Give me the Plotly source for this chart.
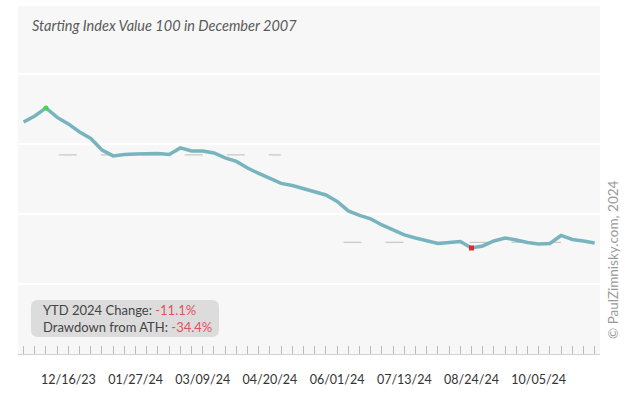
import plotly.graph_objects as go
import pandas as pd

# ---- data ----
start_date = "2023-11-18"
values = [133.14, 134.00, 135.14, 133.79, 132.86, 131.71, 130.79, 129.14, 128.29, 128.50,
          128.57, 128.57, 128.64, 128.50, 129.43, 129.00, 129.00, 128.71, 128.00, 127.50,
          126.57, 125.79, 125.14, 124.36, 124.07, 123.64, 123.14, 122.71, 121.79, 120.43,
          119.79, 119.29, 118.43, 117.71, 117.00, 116.57, 116.21, 115.79, 115.93, 116.07,
          115.14, 115.43, 116.14, 116.57, 116.29, 115.93, 115.71, 115.79, 116.93, 116.36,
          116.14, 115.86]
dates = pd.date_range(start_date, periods=len(values), freq="7D")

tick_labels = ["12/16/23", "01/27/24", "03/09/24", "04/20/24", "06/01/24", "07/13/24", "08/24/24", "10/05/24"]
tick_dates = pd.to_datetime(tick_labels, format="%m/%d/%y")

level_values = [128.43, 115.93]
level_starts = ["2023-12-10", "2024-06-05"]
level_ends = ["2024-04-27", "2024-10-19"]

grid_values = [110, 120, 130, 140]

ytd_change = "-11.1%"
drawdown = "-34.4%"

hi_idx = values.index(max(values))
lo_idx = values.index(min(values))

fig = go.Figure()

for lv, s, e in zip(level_values, level_starts, level_ends):
    fig.add_trace(go.Scatter(x=[s, e], y=[lv, lv], mode="lines",
                             line=dict(color="#c8c8c8", width=1.2, dash="18px,24px"),
                             hoverinfo="skip", showlegend=False))

fig.add_trace(go.Scatter(x=dates, y=values, mode="lines",
                         line=dict(color="#78b4be", width=3.5), showlegend=False))

fig.add_trace(go.Scatter(x=[dates[hi_idx]], y=[values[hi_idx]], mode="markers",
                         marker=dict(color="#3fd94a", size=5), showlegend=False))
fig.add_trace(go.Scatter(x=[dates[lo_idx]], y=[values[lo_idx]], mode="markers",
                         marker=dict(color="#e8262e", size=5, symbol="square"), showlegend=False))

L, R, T, B = 18, 38, 6, 41
W, H = 638, 395
pw, ph = W - L - R, H - T - B

def px(x):
    return (x - L) / pw

def py(y):
    return (H - B - y) / ph

# rounded box
x0, x1, y0, y1, r = px(31), px(219), py(337), py(300), 7
rx, ry = r / pw, r / ph
path = (f"M {x0+rx},{y0} L {x1-rx},{y0} Q {x1},{y0} {x1},{y0+ry} "
        f"L {x1},{y1-ry} Q {x1},{y1} {x1-rx},{y1} L {x0+rx},{y1} Q {x0},{y1} {x0},{y1-ry} "
        f"L {x0},{y0+ry} Q {x0},{y0} {x0+rx},{y0} Z")

fig.update_layout(
    width=W, height=H,
    margin=dict(l=L, r=R, t=T, b=B),
    paper_bgcolor="white",
    plot_bgcolor="#f7f7f7",
    font=dict(family="Lato, Open Sans, sans-serif", color="#333"),
    xaxis=dict(
        range=["2023-11-14 12:00", "2024-11-12 08:00"],
        tickvals=tick_dates, ticktext=tick_labels,
        ticks="inside", ticklen=8, tickcolor="#bbbbbb", tickwidth=1,
        minor=dict(dtick=7 * 86400000, tick0=start_date, ticks="inside", ticklen=8,
                   tickcolor="#bbbbbb", tickwidth=1, showgrid=False),
        showgrid=False, zeroline=False,
        showline=True, linecolor="#d0d0d0", linewidth=1,
        tickfont=dict(size=12.5, color="#333"),
        ticklabelstandoff=14,
    ),
    yaxis=dict(
        range=[100, 149.7],
        tickvals=grid_values, showticklabels=False,
        gridcolor="white", gridwidth=2, zeroline=False, showline=False,
    ),
    shapes=[dict(type="path", path=path, xref="paper", yref="paper",
                 fillcolor="#dcdcdc", line=dict(width=0), layer="above")],
    annotations=[
        dict(text="<i>Starting Index Value 100 in December 2007</i>", xref="paper", yref="paper",
             x=px(30), y=py(25), xanchor="left", yanchor="middle", showarrow=False,
             font=dict(size=14.5, color="#5a5a5a")),
        dict(text=f"YTD 2024 Change: <span style='color:#e2525c'>{ytd_change}</span><br>"
                  f"Drawdown from ATH: <span style='color:#e2525c'>{drawdown}</span>",
             xref="paper", yref="paper", x=px(41), y=py(318.5), xanchor="left", yanchor="middle",
             align="left", showarrow=False, font=dict(size=13, color="#444")),
        dict(text="© PaulZimnisky.com, 2024", xref="paper", yref="paper",
             x=px(613), y=py(260), xanchor="center", yanchor="middle", textangle=-90,
             showarrow=False, font=dict(size=13.5, color="#9a9a9a")),
    ],
)

fig.write_html("out.html", config={"displayModeBar": False},
               post_script="document.body.style.margin='0';")
